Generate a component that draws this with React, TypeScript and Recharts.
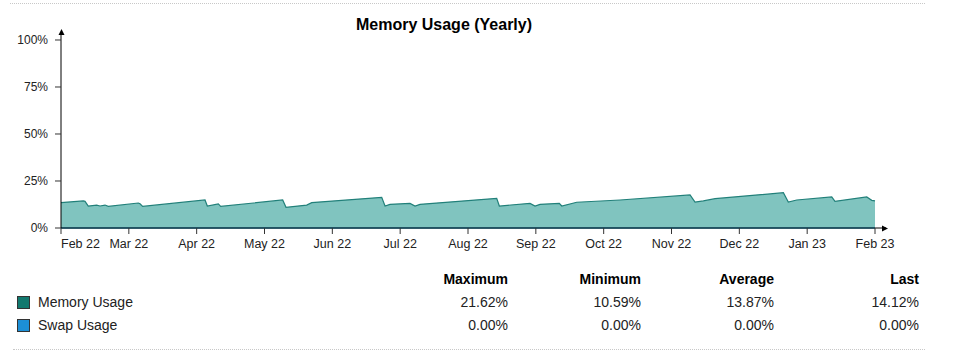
import React from 'react';
import { ComposedChart, Area, Line, XAxis, YAxis } from 'recharts';

// month offsets from Feb 22 (0) to Feb 23 (12)
const monthOffsets = [
  0, 0.33, 0.354, 0.402, 0.526, 0.575, 0.649, 0.697, 1.14, 1.165, 1.204,
  2.123, 2.157, 2.319, 2.354, 3.268, 3.317, 3.622, 3.696, 4.728, 4.777,
  4.85, 5.145, 5.219, 5.293, 6.423, 6.462, 6.914, 6.988, 7.062, 7.346,
  7.382, 7.603, 8.241, 9.273, 9.347, 9.469, 9.642, 10.649, 10.722, 10.846,
  11.362, 11.41, 11.878, 11.952, 12,
];

const memoryValues = [
  13.5, 14.4, 14.2, 11.7, 12.2, 11.7, 12.2, 11.5, 13.3, 12.9, 11.5,
  14.9, 11.7, 12.8, 11.5, 14.9, 11.0, 12.2, 13.5, 16.3, 11.7,
  12.6, 13.1, 11.7, 12.6, 15.8, 11.7, 13.1, 11.7, 12.6, 13.1,
  11.7, 13.7, 14.9, 17.6, 13.8, 14.4, 15.6, 18.8, 13.8, 14.9,
  16.5, 14.2, 16.5, 14.7, 14.4,
];

const swapValues = monthOffsets.map(() => 0);

const monthLabels = [
  'Feb 22', 'Mar 22', 'Apr 22', 'May 22', 'Jun 22', 'Jul 22', 'Aug 22',
  'Sep 22', 'Oct 22', 'Nov 22', 'Dec 22', 'Jan 23', 'Feb 23',
];
const yTicks = [0, 25, 50, 75, 100];

const statHeaders = ['Maximum', 'Minimum', 'Average', 'Last'];
const memoryStats = ['21.62%', '10.59%', '13.87%', '14.12%'];
const swapStats = ['0.00%', '0.00%', '0.00%', '0.00%'];

const MEMORY_FILL = '#80c4bf';
const MEMORY_STROKE = '#22807a';
const MEMORY_KEY = '#12796f';
const SWAP_COLOR = '#1c8fd6';
const FONT = '"Liberation Sans", Arial, sans-serif';

const chartData = monthOffsets.map((m, i) => ({
  m,
  memory: memoryValues[i],
  swap: swapValues[i],
}));

const MonthTick = ({ x, y, payload, index }: any) => (
  <text
    x={x}
    y={y + 12}
    textAnchor={index === 0 ? 'start' : 'middle'}
    fontSize={12.5}
    fill="#222"
    fontFamily={FONT}
  >
    {monthLabels[payload.value]}
  </text>
);

const statCols = [508, 641, 774, 919];

export default function App() {
  return (
    <div
      style={{
        position: 'absolute',
        left: 0,
        top: 0,
        width: 957,
        height: 351,
        background: '#fff',
        fontFamily: FONT,
        color: '#222',
      }}
    >
      <div style={{ position: 'absolute', left: 10, top: 3, width: 915, borderTop: '1px dotted #c8c8c8' }} />
      <div
        style={{
          position: 'absolute',
          left: 244,
          width: 400,
          top: 16,
          textAlign: 'center',
          fontSize: 16,
          fontWeight: 'bold',
          color: '#000',
        }}
      >
        Memory Usage (Yearly)
      </div>

      <div style={{ position: 'absolute', left: 0, top: 0 }}>
        <ComposedChart
          width={957}
          height={260}
          data={chartData}
          margin={{ top: 32, right: 71, left: 0, bottom: 0 }}
        >
          <XAxis
            type="number"
            dataKey="m"
            domain={[0, 12.162]}
            ticks={monthLabels.map((_, i) => i)}
            interval={0}
            height={32}
            tickSize={6}
            tick={<MonthTick />}
            axisLine={{ stroke: '#000' }}
            tickLine={{ stroke: '#333' }}
          />
          <YAxis
            type="number"
            domain={[0, 104.255]}
            ticks={yTicks}
            width={61}
            tickSize={6}
            tickMargin={7}
            tickFormatter={(v: number) => `${v}%`}
            tick={{ fontSize: 12, fill: '#222', fontFamily: FONT }}
            axisLine={{ stroke: '#000' }}
            tickLine={{ stroke: '#333' }}
          />
          <Area
            type="linear"
            dataKey="memory"
            fill={MEMORY_FILL}
            fillOpacity={1}
            stroke={MEMORY_STROKE}
            strokeWidth={1.2}
            isAnimationActive={false}
            dot={false}
            activeDot={false}
          />
          <Line
            type="linear"
            dataKey="swap"
            stroke="#2b9cc4"
            strokeWidth={1.5}
            dot={false}
            activeDot={false}
            isAnimationActive={false}
          />
        </ComposedChart>
      </div>

      <svg style={{ position: 'absolute', left: 0, top: 0 }} width={957} height={260}>
        <path d="M61.5 29 L58.5 35 L64.5 35 Z" fill="#000" />
        <path d="M888 228.5 L882 225.5 L882 231.5 Z" fill="#000" />
      </svg>

      {statHeaders.map((h, i) => (
        <div
          key={h}
          style={{
            position: 'absolute',
            right: 957 - statCols[i],
            top: 271,
            fontSize: 14,
            fontWeight: 'bold',
            color: '#000',
          }}
        >
          {h}
        </div>
      ))}

      {[
        { name: 'Memory Usage', color: MEMORY_KEY, stats: memoryStats, top: 294 },
        { name: 'Swap Usage', color: SWAP_COLOR, stats: swapStats, top: 317 },
      ].map((row) => (
        <React.Fragment key={row.name}>
          <div
            style={{
              position: 'absolute',
              left: 17,
              top: row.top + 2,
              width: 11,
              height: 11,
              background: row.color,
              border: '1px solid #333',
            }}
          />
          <div style={{ position: 'absolute', left: 38, top: row.top, fontSize: 14 }}>{row.name}</div>
          {row.stats.map((s, i) => (
            <div
              key={i}
              style={{ position: 'absolute', right: 957 - statCols[i], top: row.top, fontSize: 14 }}
            >
              {s}
            </div>
          ))}
        </React.Fragment>
      ))}

      <div style={{ position: 'absolute', left: 13, top: 349, width: 912, borderTop: '1px dotted #c8c8c8' }} />
    </div>
  );
}
